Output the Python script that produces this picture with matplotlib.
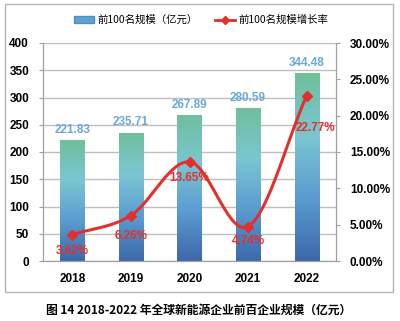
import matplotlib.pyplot as plt
import matplotlib.colors as mcolors
from matplotlib.patches import Rectangle
from matplotlib.lines import Line2D
import numpy as np

plt.rcParams['font.family'] = ['Liberation Sans', 'Noto Sans CJK SC']

years = ["2018", "2019", "2020", "2021", "2022"]
scale = [221.83, 235.71, 267.89, 280.59, 344.48]
growth = [3.62, 6.26, 13.65, 4.74, 22.77]
left_ticks = [0, 50, 100, 150, 200, 250, 300, 350, 400]
right_ticks = [0, 5, 10, 15, 20, 25, 30]

BAR_COLORS = ["#3d68aa", "#5a9bd0", "#7ac6d2", "#6fbf9c"]
LINE_RED = "#e2302c"
LABEL_BLUE = "#6aa8d8"
GRID = "#bfbfbf"

fig = plt.figure(figsize=(4.0, 3.21), dpi=100)
W, H = 400, 321
ax = fig.add_axes([43 / W, 1 - 261 / H, (336 - 43) / W, (261 - 43) / H])
ax2 = ax.twinx()

x = np.arange(len(years))

# gradient bars
cmap = mcolors.LinearSegmentedColormap.from_list("bars", BAR_COLORS)
grad = np.linspace(0, 1, 256).reshape(-1, 1)
bw = 0.41
for xi, v in zip(x, scale):
    rect = Rectangle((xi - bw / 2, 0), bw, v, facecolor="none", edgecolor="none")
    ax.add_patch(rect)
    im = ax.imshow(grad, cmap=cmap, aspect="auto", origin="lower",
                   extent=[xi - bw / 2, xi + bw / 2, 0, v], zorder=2)
    im.set_clip_path(rect)
    ax.text(xi, v + 8, "{:.2f}".format(v), ha="center", va="bottom",
            color=LABEL_BLUE, fontsize=8.5, fontweight="bold")
ax.set_xlim(-0.5, len(years) - 0.5)
ax.set_ylim(0, 400)
ax2.set_ylim(0, 30)

# smoothed growth line (Catmull-Rom through the data points)
pts = np.column_stack([x, growth]).astype(float)
ext = np.vstack([pts[0] * 2 - pts[1], pts, pts[-1] * 2 - pts[-2]])
sx, sy = [], []
for i in range(1, len(ext) - 2):
    p0, p1, p2, p3 = ext[i - 1], ext[i], ext[i + 1], ext[i + 2]
    t = np.linspace(0, 1, 30)[:, None]
    c = 0.5 * ((2 * p1) + (-p0 + p2) * t + (2 * p0 - 5 * p1 + 4 * p2 - p3) * t ** 2
               + (-p0 + 3 * p1 - 3 * p2 + p3) * t ** 3)
    sx.extend(c[:, 0])
    sy.extend(c[:, 1])
ax2.plot(sx, sy, color=LINE_RED, lw=2.2, zorder=5, solid_capstyle="round")
ax2.plot(x, growth, linestyle="none", marker="D", ms=5, color=LINE_RED, zorder=6)

offsets = [(0, -2.25), (0, -2.8), (0, -2.25), (0, -2.0), (0.15, -4.5)]
for xi, g, (dx, dy) in zip(x, growth, offsets):
    ax2.text(xi + dx, g + dy, "{:.2f}%".format(g), ha="center", va="center",
             color=LINE_RED, fontsize=8.5, fontweight="bold", zorder=7)

# grid and axes
ax.set_yticks(left_ticks)
ax.yaxis.grid(True, color=GRID, lw=1)
ax.set_axisbelow(True)
ax.set_xticks(x)
ax.set_xticklabels(years, fontsize=8.5, fontweight="bold")
ax.tick_params(axis="x", length=0, pad=9)
ax.tick_params(axis="y", labelsize=8.5, length=3, color="#9f9f9f", pad=7)
for lab in ax.get_yticklabels():
    lab.set_fontweight("bold")
ax2.set_yticks(right_ticks)
ax2.set_yticklabels(["{:.2f}%".format(t) for t in right_ticks], fontsize=8.5, fontweight="bold")
ax2.tick_params(axis="y", length=3, color="#9f9f9f", pad=7)
for a in (ax, ax2):
    a.spines["top"].set_visible(False)
    for s in ("left", "right", "bottom"):
        a.spines[s].set_color("#9f9f9f")

# legend
handles = [Rectangle((0, 0), 1, 1, facecolor="#5fa2cf", edgecolor="#4f8cc0"),
           Line2D([0], [0], color=LINE_RED, lw=2, marker="D", ms=4)]
fig.legend(handles, ["前100名规模（亿元）", "前100名规模增长率"],
           loc="center", bbox_to_anchor=(201 / W, 1 - 20 / H), ncol=2,
           frameon=False, prop={"family": ["Noto Sans CJK SC"], "size": 7.5},
           handlelength=2.0, columnspacing=1.6, handletextpad=0.3)

# outer frame
fig.patches.append(Rectangle((5 / W, 1 - 292 / H), 388 / W, 288 / H,
                             transform=fig.transFigure, fill=False,
                             edgecolor="#b5b5b5", lw=1))

fig.text(199 / W, 1 - 310 / H, "图 14 2018-2022 年全球新能源企业前百企业规模（亿元）",
         ha="center", va="center", fontsize=8.5, fontweight="bold",
         family=["Noto Sans CJK SC", "DejaVu Sans"])

fig.savefig("out.png", dpi=100)
